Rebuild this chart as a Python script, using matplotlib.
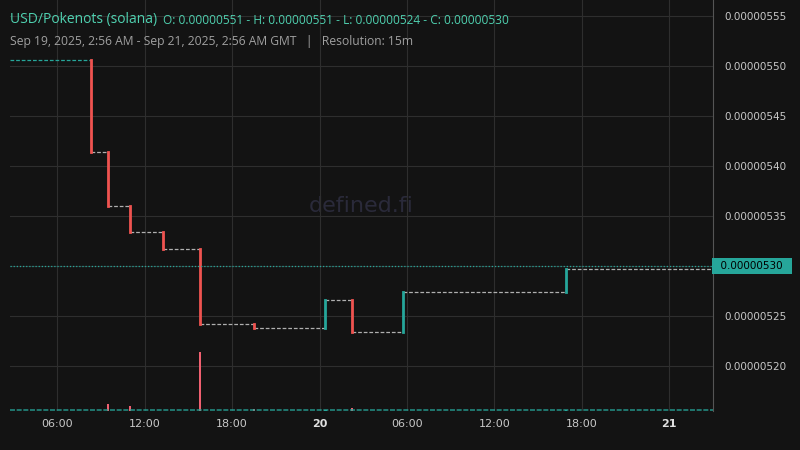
import matplotlib
matplotlib.use("Agg")
import matplotlib.pyplot as plt

# hours since Sep 19 00:00 GMT
change_hours = [2.75, 8.33, 9.5, 11.0, 13.27, 15.8, 19.5, 24.4, 26.2, 29.7, 40.9]
levels = [5.506, 5.414, 5.360, 5.334, 5.317, 5.242, 5.238, 5.266, 5.234, 5.274, 5.297]  # x1e-6
end_hour = 51.0
vol_hours = [9.5, 11.0, 15.8, 19.5, 24.4, 26.2, 40.9]
vol_values = [7, 5, 59, 2, 1.5, 3, 1.5]
tick_hours = [6, 12, 18, 24, 30, 36, 42, 48]
tick_labels = ["06:00", "12:00", "18:00", "20", "06:00", "12:00", "18:00", "21"]
price_ticks = [5.20, 5.25, 5.30, 5.35, 5.40, 5.45, 5.50, 5.55]
last_price = 5.30

BG = "#131313"; GRID = "#2e2e2e"; UP = "#26a69a"; DOWN = "#ef5350"; TXT = "#c8c8c8"
fig = plt.figure(figsize=(8, 4.5), dpi=100, facecolor=BG)
ax = fig.add_axes([10/800, 39/450, 703/800, 411/450])
ax.set_facecolor(BG)
ax.set_xlim(2.75, end_hour)
ax.set_ylim(5.155, 5.566)

vax = ax.twinx()
vax.set_ylim(0, 411)
vax.axis("off")
vax.axhline(1, color=UP, lw=1.2, ls=(0, (3, 1)), alpha=0.8)
for i, (h, v) in enumerate(zip(vol_hours, vol_values)):
    idx = change_hours.index(h)
    c = DOWN if levels[idx] < levels[idx-1] else UP
    vax.bar(h, v, width=0.15, bottom=0, color="#f06070" if c == DOWN else UP)

for i in range(len(levels)):
    x0 = change_hours[i]
    x1 = change_hours[i+1] if i+1 < len(change_hours) else end_hour
    col = UP if i == 0 else "#b0b0b0"
    ax.plot([x0, x1], [levels[i], levels[i]], color=col, lw=0.9, ls=(0, (3, 1.5)))
    if i > 0:
        c = DOWN if levels[i] < levels[i-1] else UP
        ax.plot([x0, x0], [levels[i-1], levels[i]], color=c, lw=2)

ax.axhline(last_price, color=UP, lw=0.9, ls=(0, (1, 1.5)))
ax.set_xticks(tick_hours)
ax.set_xticklabels(tick_labels)
for t, l in zip(ax.get_xticklabels(), tick_labels):
    t.set_color(TXT); t.set_fontsize(8)
    if l in ("20", "21"):
        t.set_fontweight("bold"); t.set_color("#e0e0e0")
ax.yaxis.tick_right()
ax.set_yticks(price_ticks)
ax.set_yticklabels(["" if abs(p - last_price) < 1e-9 else f"{p/1e6:.8f}" for p in price_ticks],
                   color=TXT, fontsize=7.5)
ax.tick_params(length=0, pad=6)
ax.tick_params(axis="y", pad=8)
ax.grid(color=GRID, lw=0.8)
for s in ax.spines.values():
    s.set_visible(False)
ax.spines["right"].set_visible(True); ax.spines["right"].set_color("#555555")

ax.text(1.002, last_price, "  0.00000530  ", transform=ax.get_yaxis_transform(),
        va="center", ha="left", fontsize=7.5, color="#000000",
        bbox=dict(boxstyle="square,pad=0.25", fc=UP, ec="none"))

ax.text(0.5, 0.5, "defined.fi", transform=ax.transAxes, ha="center", va="center",
        fontsize=16, color="#2a2a3a", zorder=0)

fig.text(10/800, 1 - 20/450, "USD/Pokenots (solana)", color="#4fd1b0", fontsize=10, va="center", family="Open Sans")
fig.text(163/800, 1 - 20/450, "O: 0.00000551 - H: 0.00000551 - L: 0.00000524 - C: 0.00000530",
         color="#4fd1b0", fontsize=8.6, va="center", family="Open Sans")
fig.text(10/800, 1 - 41/450, "Sep 19, 2025, 2:56 AM - Sep 21, 2025, 2:56 AM GMT   |   Resolution: 15m",
         color="#a0a0a0", fontsize=8.7, va="center", family="Open Sans")

fig.savefig("out.png", dpi=100, facecolor=BG)
